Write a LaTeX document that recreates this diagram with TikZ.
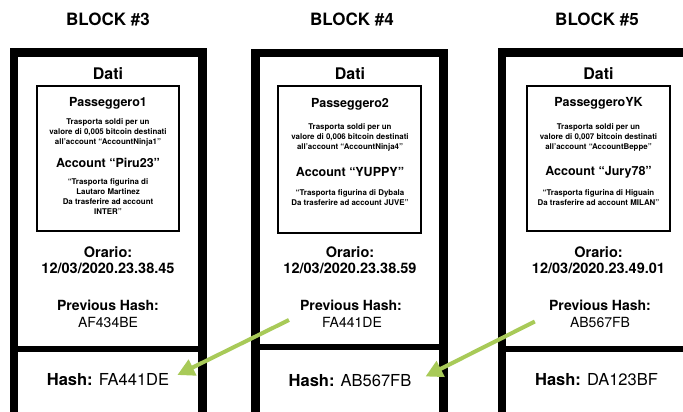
\documentclass[tikz,border=0pt]{standalone}
\usepackage{fontspec}
\setmainfont{TeX Gyre Heros}
\usetikzlibrary{arrows.meta,calc}
\definecolor{linkgreen}{RGB}{168,202,88}
\tikzset{
  outerbox/.style={draw=black,line width=8.5pt},
  divider/.style={draw=black,line width=6pt},
  innerbox/.style={draw=black,line width=1.4pt},
  txt/.style={inner sep=0pt,align=center,text=black},
  title/.style={txt,font=\bfseries\fontsize{17}{20}\selectfont},
  dati/.style={txt,font=\bfseries\fontsize{16}{19}\selectfont},
  pass/.style={txt,font=\bfseries\fontsize{12.5}{15}\selectfont},
  small/.style={txt,font=\bfseries\fontsize{7.9}{10}\selectfont},
  timetxt/.style={txt,font=\bfseries\fontsize{14.5}{16.5}\selectfont},
  prevlab/.style={txt,font=\bfseries\fontsize{14}{16}\selectfont},
  prevval/.style={txt,font=\fontsize{14}{16}\selectfont},
  hashtxt/.style={txt,font=\fontsize{16.5}{19}\selectfont},
  link/.style={draw=linkgreen,line width=4pt,-{Triangle[length=17pt,width=17pt]}}
}
\begin{document}
\begin{tikzpicture}[x=1pt,y=-1pt]
\useasboundingbox (0,0) rectangle (683,412);
\clip (0,0) rectangle (683,412);
\fill[white] (0,0) rectangle (683,412);

% ---- block frames ----
\draw[outerbox] (14,52.5) rectangle (202.5,440);
\draw[divider] (14,349) -- (202.5,349);
\draw[innerbox] (37,86) rectangle (179,231);

\draw[outerbox] (255.5,53) rectangle (443.5,440);
\draw[divider] (255.5,347) -- (443.5,347);
\draw[innerbox] (278,86) rectangle (421,233);

\draw[outerbox] (502,52.5) rectangle (700,440);
\draw[divider] (502,348.5) -- (700,348.5);
\draw[innerbox] (527,86) rectangle (670,231);

% ---- block 3 ----
\node[title] (t3) at (108,19) {BLOCK \#3};
\node[dati] (d3) at (108,73.5) {Dati};
\node[pass] (p3) at (108,103) {Passeggero1};
\node[small] (s3) at (108,132.5) {Trasporta soldi per un\\valore di 0,005 bitcoin destinati\\all’account “AccountNinja1”};
\node[pass] (a3) at (108,163) {Account “Piru23”};
\node[small] (q3) at (108,197) {“Trasporta figurina di\\Lautaro Martinez\\Da trasferire ad account\\INTER”};
\node[timetxt] (o3) at (108,260) {Orario:\\12/03/2020.23.38.45};
\node[prevlab] (pl3) at (108,305) {Previous Hash:};
\node[prevval] (pv3) at (108,322.5) {AF434BE};
\node[hashtxt] (h3) at (108,380) {\textbf{Hash:} FA441DE};

% ---- block 4 ----
\node[title] (t4) at (352,19) {BLOCK \#4};
\node[dati] (d4) at (350,74) {Dati};
\node[pass] (p4) at (350,104) {Passeggero2};
\node[small] (s4) at (350,137) {Trasporta soldi per un\\valore di 0,006 bitcoin destinati\\all’account “AccountNinja4”};
\node[pass] (a4) at (350,172) {Account “YUPPY”};
\node[small] (q4) at (350,198) {“Trasporta figurina di Dybala\\Da trasferire ad account JUVE”};
\node[timetxt] (o4) at (350,260) {Orario:\\12/03/2020.23.38.59};
\node[prevlab] (pl4) at (351,305) {Previous Hash:};
\node[prevval] (pv4) at (352,322.5) {FA441DE};
\node[hashtxt] (h4) at (350,380.5) {\textbf{Hash:} AB567FB};

% ---- block 5 ----
\node[title] (t5) at (597,19) {BLOCK \#5};
\node[dati] (d5) at (598.5,73.5) {Dati};
\node[pass] (p5) at (598.5,103.5) {PasseggeroYK};
\node[small] (s5) at (598.5,137) {Trasporta soldi per un\\valore di 0,007 bitcoin destinati\\all’account “AccountBeppe”};
\node[pass] (a5) at (598.5,172) {Account “Jury78”};
\node[small] (q5) at (598.5,198) {“Trasporta figurina di Higuain\\Da trasferire ad account MILAN”};
\node[timetxt] (o5) at (598.5,260) {Orario:\\12/03/2020.23.49.01};
\node[prevlab] (pl5) at (600,305) {Previous Hash:};
\node[prevval] (pv5) at (600,322.5) {AB567FB};
\node[hashtxt] (h5) at (596.5,379.5) {\textbf{Hash:} DA123BF};

% ---- links: previous hash -> hash of preceding block ----
\draw[link] ($(pv4.west)+(-33,-2.5)$) -- ($(h3.east)+(8,-5)$);
\draw[link] ($(pv5.west)+(-35,-1)$) -- ($(h4.east)+(14,-4)$);
\end{tikzpicture}
\end{document}
